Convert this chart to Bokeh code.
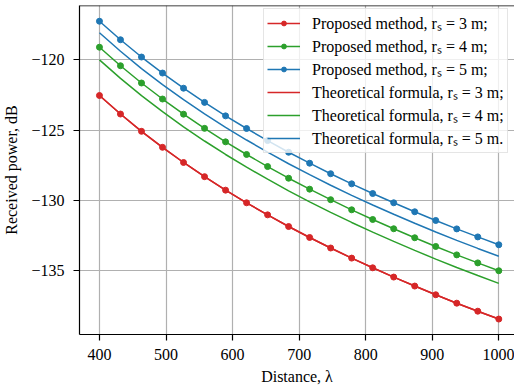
from bokeh.plotting import figure
from bokeh.models import FixedTicker, Legend, LegendItem, Span, Range1d
from bokeh.embed import file_html
from bokeh.resources import INLINE

distance = [400.00, 431.58, 463.16, 494.74, 526.32, 557.89, 589.47, 621.05, 652.63, 684.21,
            715.79, 747.37, 778.95, 810.53, 842.11, 873.68, 905.26, 936.84, 968.42, 1000.00]

proposed_r3 = [-122.54, -123.86, -125.09, -126.23, -127.31, -128.32, -129.28, -130.18, -131.04, -131.87,
               -132.65, -133.40, -134.12, -134.81, -135.47, -136.11, -136.73, -137.33, -137.90, -138.46]
proposed_r4 = [-119.10, -120.42, -121.65, -122.79, -123.87, -124.88, -125.84, -126.74, -127.60, -128.43,
               -129.21, -129.96, -130.68, -131.37, -132.03, -132.67, -133.29, -133.89, -134.46, -135.02]
proposed_r5 = [-117.25, -118.57, -119.80, -120.94, -122.02, -123.03, -123.99, -124.89, -125.75, -126.58,
               -127.36, -128.11, -128.83, -129.52, -130.18, -130.82, -131.44, -132.04, -132.61, -133.17]

theory_r3 = [-122.54, -123.86, -125.09, -126.23, -127.31, -128.32, -129.28, -130.18, -131.04, -131.87,
             -132.65, -133.40, -134.12, -134.81, -135.47, -136.11, -136.73, -137.33, -137.90, -138.46]
theory_r4 = [-120.00, -121.32, -122.55, -123.69, -124.77, -125.78, -126.74, -127.64, -128.50, -129.33,
             -130.11, -130.86, -131.58, -132.27, -132.93, -133.57, -134.19, -134.79, -135.36, -135.92]
theory_r5 = [-118.07, -119.39, -120.62, -121.76, -122.84, -123.85, -124.81, -125.71, -126.57, -127.40,
             -128.18, -128.93, -129.65, -130.34, -131.00, -131.64, -132.26, -132.86, -133.43, -133.99]

x_ticks = [400, 500, 600, 700, 800, 900, 1000]
y_ticks = [-135, -130, -125, -120]
y_tick_labels = ["\u2212135", "\u2212130", "\u2212125", "\u2212120"]

labels = [
    "Proposed method, r\u209b = 3 m;",
    "Proposed method, r\u209b = 4 m;",
    "Proposed method, r\u209b = 5 m;",
    "Theoretical formula, r\u209b = 3 m;",
    "Theoretical formula, r\u209b = 4 m;",
    "Theoretical formula, r\u209b = 5 m.",
]

RED, GREEN, BLUE = "#d62728", "#2ca02c", "#1f77b4"
FONT = "Liberation Serif"

p = figure(width=514, height=388, output_backend="svg", toolbar_location=None,
           x_range=Range1d(370, 1023.6), y_range=Range1d(-139.56, -116.13),
           min_border_left=79, min_border_right=0, min_border_top=5, min_border_bottom=54)
p.outline_line_color = None
p.background_fill_color = "white"
p.border_fill_color = "white"

for ax in (p.xaxis[0], p.yaxis[0]):
    ax.major_label_text_font = FONT
    ax.major_label_text_font_size = "16px"
    ax.major_label_text_color = "black"
    ax.axis_label_text_font = FONT
    ax.axis_label_text_font_size = "16px"
    ax.axis_label_text_font_style = "normal"
    ax.axis_label_text_color = "black"
    ax.axis_line_color = "black"
    ax.axis_line_width = 1.2
    ax.major_tick_line_color = "black"
    ax.major_tick_line_width = 1.2
    ax.major_tick_out = 6
    ax.major_tick_in = 0
    ax.minor_tick_line_color = None

p.xaxis.ticker = FixedTicker(ticks=x_ticks)
p.yaxis.ticker = FixedTicker(ticks=y_ticks)
p.yaxis.major_label_overrides = {t: s for t, s in zip(y_ticks, y_tick_labels)}
p.xaxis.major_label_standoff = 8
p.yaxis.major_label_standoff = 9
p.xaxis.axis_label = "Distance, \u03bb"
p.yaxis.axis_label = "Received power, dB"
p.xaxis.axis_label_standoff = 5
p.yaxis.axis_label_standoff = 8

p.xgrid.ticker = FixedTicker(ticks=x_ticks)
p.ygrid.ticker = FixedTicker(ticks=y_ticks)
for g in (p.xgrid[0], p.ygrid[0]):
    g.grid_line_color = "#b0b0b0"
    g.grid_line_width = 1.2

p.add_layout(Span(location=-116.13, dimension="width", line_color="black", line_width=1.5))

lw = 1.5
l1 = p.line(distance, proposed_r3, color=RED, line_width=lw)
c1 = p.scatter(distance, proposed_r3, color=RED, size=6)
l2 = p.line(distance, proposed_r4, color=GREEN, line_width=lw)
c2 = p.scatter(distance, proposed_r4, color=GREEN, size=6)
l3 = p.line(distance, proposed_r5, color=BLUE, line_width=lw)
c3 = p.scatter(distance, proposed_r5, color=BLUE, size=6)
t1 = p.line(distance, theory_r3, color=RED, line_width=lw)
t2 = p.line(distance, theory_r4, color=GREEN, line_width=lw)
t3 = p.line(distance, theory_r5, color=BLUE, line_width=lw)

items = [
    LegendItem(label=labels[0], renderers=[l1, c1]),
    LegendItem(label=labels[1], renderers=[l2, c2]),
    LegendItem(label=labels[2], renderers=[l3, c3]),
    LegendItem(label=labels[3], renderers=[t1]),
    LegendItem(label=labels[4], renderers=[t2]),
    LegendItem(label=labels[5], renderers=[t3]),
]
legend = Legend(items=items, location=(184, 181))
legend.label_text_font = FONT
legend.label_text_font_size = "16px"
legend.label_text_color = "black"
legend.glyph_width = 33
legend.glyph_height = 12
legend.label_height = 12
legend.spacing = 1
legend.padding = 3
legend.margin = 0
legend.label_standoff = 12
legend.border_line_color = "#cccccc"
legend.border_line_width = 1
legend.background_fill_color = "white"
legend.background_fill_alpha = 0.8
p.add_layout(legend, "center")

open("out.html", "w").write(file_html(p, INLINE))
